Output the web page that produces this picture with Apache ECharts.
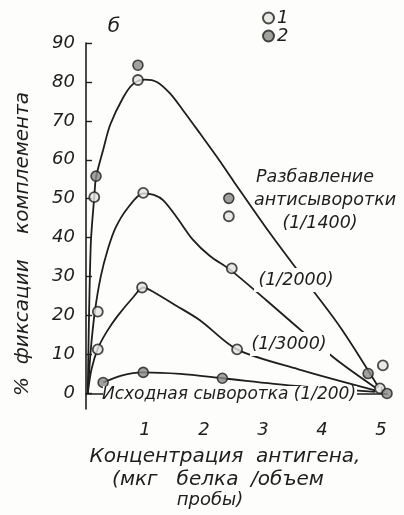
<!DOCTYPE html>
<html>
<head>
<meta charset="utf-8">
<script src="https://cdn.jsdelivr.net/npm/echarts@6/dist/echarts.min.js"></script>
<style>
  html, body { margin: 0; padding: 0; background: #fdfdfb; }
  #chart { width: 404px; height: 515px; }
</style>
</head>
<body>
<div id="chart"></div>
<script>
// Axis tick values
const xTickValues = [1, 2, 3, 4, 5];
const yTickValues = [0, 10, 20, 30, 40, 50, 60, 70, 80, 90];

// Fitted curves, antigen concentration vs % complement fixation
const curve1400 = [[0.03, 0], [0.08, 38], [0.14, 50.4], [0.17, 55.5], [0.29, 62.5], [0.41, 69], [0.63, 76],
  [0.8, 79.5], [1.0, 80.6], [1.2, 80], [1.42, 77.1], [1.64, 72.8], [1.93, 66.8], [2.22, 60.7],
  [2.5, 54.5], [3.1, 41.5], [3.6, 31.3], [4.3, 17.2], [4.96, 1.5]];
const curve2000 = [[0.03, 0], [0.08, 11], [0.15, 21], [0.25, 30], [0.37, 37], [0.5, 42.5], [0.7, 47.5],
  [0.97, 51.4], [1.15, 51], [1.31, 49.6], [1.54, 45.2], [1.81, 39.5], [2.1, 35.3], [2.44, 31.8],
  [3.05, 24], [3.66, 16], [4.3, 8], [4.93, 1.2]];
const curve3000 = [[0.03, 0], [0.09, 6], [0.2, 11.5], [0.35, 15.8], [0.53, 19.8], [0.8, 24.7], [0.97, 27.2],
  [1.15, 26], [1.5, 22.8], [1.93, 18.8], [2.56, 11.3], [3.6, 6.2], [4.9, 0.8]];
const curveSerum = [[0.29, 2.8], [0.6, 4.6], [0.97, 5.4], [1.6, 5.0], [2.31, 3.9], [3.5, 2.0], [4.9, 0.4]];

// Measured points: series 1 and series 2
const points1 = [[0.14, 50.4], [0.88, 80.5], [0.97, 51.5], [0.2, 21], [0.2, 11.3], [0.95, 27.2],
  [2.42, 45.5], [2.47, 32.1], [2.56, 11.3], [5.03, 7.2], [4.98, 1.3]];
const points2 = [[0.17, 55.8], [0.88, 84.3], [2.42, 50.1], [4.78, 5.1], [5.1, 0], [0.29, 2.8],
  [0.97, 5.4], [2.31, 3.9]];

const FONT = 'DejaVu Sans';
const INK = '#1e1e1e';
const PAPER = '#fdfdfb';

const chart = echarts.init(document.getElementById('chart'), null, { renderer: 'canvas' });

function curve(name, data) {
  return {
    name, type: 'line', data, smooth: 0.3, showSymbol: false,
    lineStyle: { color: INK, width: 1.8 }, z: 2, silent: true
  };
}

function txt(text, x, y, size, extra) {
  return Object.assign({
    type: 'text', x, y,
    style: { text, fill: INK, font: 'italic ' + size + 'px "' + FONT + '"', align: 'center', verticalAlign: 'middle' },
    z: 10
  }, extra || {});
}

function gap(x, y, width, height) {
  return { type: 'rect', shape: { x, y, width, height }, style: { fill: PAPER }, z: 8 };
}

chart.setOption({
  backgroundColor: PAPER,
  animation: false,
  grid: { left: 86, right: 17, top: 43, bottom: 106 },
  xAxis: {
    type: 'value', min: 0, max: 5.1,
    axisLine: { lineStyle: { color: INK, width: 1.6 } },
    axisTick: { inside: true, length: 7, lineStyle: { color: INK, width: 1.4 }, customValues: xTickValues },
    axisLabel: { customValues: xTickValues, color: INK, fontSize: 18, fontStyle: 'italic', fontFamily: FONT, margin: 12 },
    splitLine: { show: false }
  },
  yAxis: {
    type: 'value', min: -4, max: 90,
    axisLine: { show: true, lineStyle: { color: INK, width: 1.6 } },
    axisTick: { show: true, inside: true, length: 6, lineStyle: { color: INK, width: 1.4 }, customValues: yTickValues },
    axisLabel: { customValues: yTickValues, color: INK, fontSize: 18, fontStyle: 'italic', fontFamily: FONT, margin: 11 },
    splitLine: { show: false }
  },
  legend: {
    data: ['1', '2'], orient: 'vertical', left: 257, top: 4, itemWidth: 11, itemHeight: 11, itemGap: 0,
    textStyle: { color: INK, fontSize: 18, lineHeight: 16, fontStyle: 'italic', fontFamily: FONT, padding: [0, 0, 0, -2] }
  },
  series: [
    curve('1/1400', curve1400),
    curve('1/2000', curve2000),
    curve('1/3000', curve3000),
    curve('1/200', curveSerum),
    {
      name: '1', type: 'scatter', data: points1, symbol: 'circle', symbolSize: 10, clip: false, z: 5,
      itemStyle: { color: '#e4e4e0', borderColor: INK, borderWidth: 1.8 }
    },
    {
      name: '2', type: 'scatter', data: points2, symbol: 'circle', symbolSize: 10, clip: false, z: 5,
      itemStyle: { color: '#8a8a86', borderColor: INK, borderWidth: 1.6 }
    }
  ],
  graphic: [
    txt('б', 114, 27, 20),
    txt('Разбавление', 315, 177, 17.5),
    txt('антисыворотки', 325, 200, 17.5),
    txt('(1/1400)', 320, 223, 17.5),
    gap(254, 268, 86, 24),
    txt('(1/2000)', 296, 280, 17.5),
    gap(250, 332, 80, 24),
    txt('(1/3000)', 289, 344, 17.5),
    gap(103, 386, 254, 18),
    txt('Исходная сыворотка (1/200)', 229, 395, 17),
    txt('Концентрация  антигена,', 225, 457, 20),
    txt('(мкг   белка  /объем', 218, 480, 20),
    txt('пробы)', 210, 500, 18),
    txt('%  фиксации    комплемента', 23, 244, 20, { rotation: Math.PI / 2 })
  ]
});
</script>
</body>
</html>
